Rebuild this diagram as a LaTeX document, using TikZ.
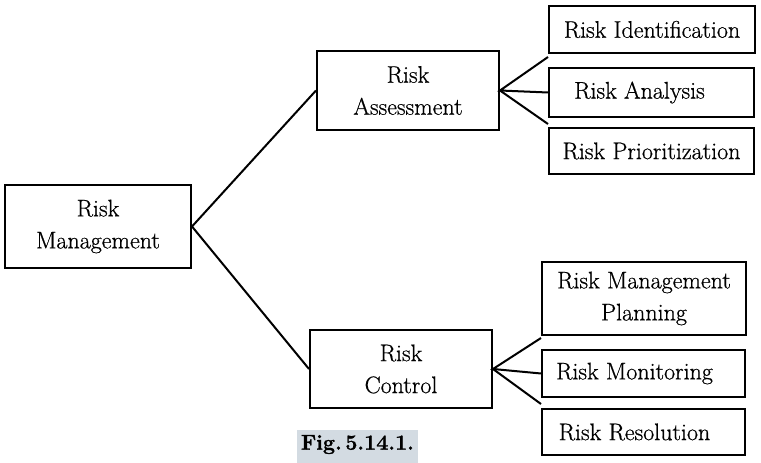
\documentclass[tikz,border=0pt]{standalone}
\usepackage{fontspec}
\setmainfont{Latin Modern Roman}
\newfontfamily\boxfont{Latin Modern Roman}[FakeBold=0.6]
\newfontfamily\capfont{Latin Modern Roman}[FakeBold=1.2]
\usepackage{tikz}
\definecolor{figbg}{HTML}{D3DBE2}
\tikzset{
  box/.style={draw=black, line width=2pt, rectangle, align=center, inner sep=2pt,
              font=\boxfont\fontsize{24}{32}\selectfont},
  link/.style={line width=2pt},
}
\begin{document}
\begin{tikzpicture}[x=1pt,y=-1pt]
\useasboundingbox (0,0) rectangle (761,463);
\fill[white] (0,0) rectangle (761,463);
% main nodes
\node[box, minimum width=186pt, minimum height=83pt] (rm) at (98,226.5) {Risk\\Management};
\node[box, minimum width=182pt, minimum height=79pt] (ra) at (408,90.5) {Risk\\Assessment};
\node[box, minimum width=182pt, minimum height=78pt] (rc) at (401,369) {Risk\\Control};
% assessment children
\node[box, minimum width=206pt, minimum height=47pt] (ri) at (652,29.5) {Risk Identification};
\node[box, minimum width=205pt, minimum height=49pt] (ran) at (651.5,92.5) {\hspace*{-24pt}Risk Analysis};
\node[box, minimum width=205pt, minimum height=46pt] (rp) at (651.5,151) {Risk Prioritization};
% control children
\node[box, minimum width=204pt, minimum height=73pt] (rmp) at (644,298.5) {Risk Management\\Planning};
\node[box, minimum width=203pt, minimum height=47pt] (rmo) at (643.5,373.5) {\hspace*{-18pt}Risk Monitoring};
\node[box, minimum width=203pt, minimum height=46pt] (rr) at (643.5,432) {\hspace*{-18pt}Risk Resolution};
% connectors
\draw[link] (ra.west) -- (rm.east) -- (rc.west);
\draw[link] ([yshift=-3pt]ri.south west) -- (ra.east) -- (ran.west);
\draw[link] (ra.east) -- ([yshift=3pt]rp.north west);
\draw[link] ([yshift=-2pt]rmp.south west) -- (rc.east) -- (rmo.west);
\draw[link] (rc.east) -- ([yshift=4pt]rr.north west);
% caption
\fill[figbg] (297,430) rectangle (418,463);
\node[font=\capfont\fontsize{21.5}{22}\selectfont\bfseries, inner sep=0pt] (fig) at (357.5,444.5) {Fig.\,5.14.1.};
\end{tikzpicture}
\end{document}
